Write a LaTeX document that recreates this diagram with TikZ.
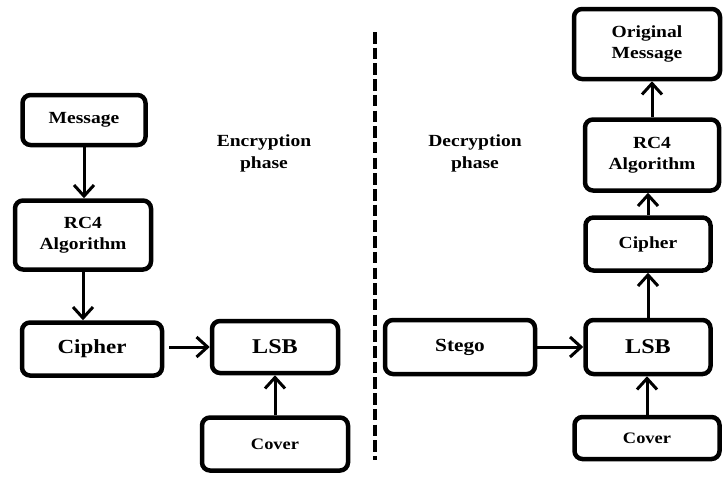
\documentclass[tikz,border=0pt]{standalone}
\usepackage{fontspec}
\setmainfont{Liberation Serif}[FakeStretch=1.15]
\usetikzlibrary{arrows.meta,positioning}

\begin{document}
\begin{tikzpicture}[x=1pt,y=-1pt,
    blk/.style={draw,line width=4.5pt,rounded corners=8pt,align=center,
      inner sep=0pt,font=\bfseries\fontsize{17}{21}\selectfont},
    lbl/.style={align=center,font=\bfseries\fontsize{17}{22}\selectfont},
    flow/.style={line width=3pt,-{Straight Barb[length=11pt,width=20pt]}}]
 \useasboundingbox (0,0) rectangle (723,477);
 % encryption side
 \node[blk,minimum width=123pt,minimum height=50pt] (MSG) at (84,120) {Message};
 \node[blk,minimum width=136pt,minimum height=69pt] (RCL) at (83,235) {RC4\\Algorithm};
 \node[blk,minimum width=140pt,minimum height=53pt,
   font=\bfseries\fontsize{20}{24}\selectfont] (CIL) at (92,349) {Cipher};
 \node[blk,minimum width=126pt,minimum height=52pt,
   font=\bfseries\fontsize{21}{25}\selectfont] (LSBL) at (275,347) {LSB};
 \node[blk,minimum width=146pt,minimum height=53pt,
   font=\bfseries\fontsize{16}{20}\selectfont] (COVL) at (275,444) {Cover};
 \node[lbl] (ENC) at (264,153) {Encryption\\phase};
 % decryption side
 \node[lbl] (DEC) at (475,153) {Decryption\\phase};
 \node[blk,minimum width=150pt,minimum height=54pt,
   font=\bfseries\fontsize{18.5}{22}\selectfont] (STG) at (460,347) {Stego};
 \node[blk,minimum width=125pt,minimum height=54pt,
   font=\bfseries\fontsize{21}{25}\selectfont] (LSBR) at (648,347) {LSB};
 \node[blk,minimum width=125pt,minimum height=53pt] (CIR) at (648,244) {Cipher};
 \node[blk,minimum width=134pt,minimum height=71pt] (RCR) at (652,155) {RC4\\Algorithm};
 \node[blk,minimum width=146pt,minimum height=70pt] (ORG) at (647,44) {Original\\Message};
 \node[blk,minimum width=145pt,minimum height=42pt,
   font=\bfseries\fontsize{16}{20}\selectfont] (COVR) at (647,438) {Cover};
 % separator
 \coordinate (DT) at (375,32);
 \coordinate (DB) at (375,460);
 \draw[line width=3.5pt,dash pattern=on 11.5pt off 4.2pt] (DT) -- (DB);
 % connectors
 \draw[flow] (MSG.south) -- (MSG.south |- RCL.north);
 \draw[flow] (RCL.south) -- (RCL.south |- CIL.north);
 \draw[flow,shorten <=5pt] (LSBL.west -| CIL.east) -- (LSBL.west);
 \draw[flow] (COVL.north) -- (COVL.north |- LSBL.south);
 \draw[flow] (STG.east) -- (STG.east -| LSBR.west);
 \draw[flow] (COVR.north) -- (COVR.north |- LSBR.south);
 \draw[flow] (LSBR.north) -- (LSBR.north |- CIR.south);
 \draw[flow] (CIR.north) -- (CIR.north |- RCR.south);
 \draw[flow] (RCR.north) -- (RCR.north |- ORG.south);
\end{tikzpicture}
\end{document}
